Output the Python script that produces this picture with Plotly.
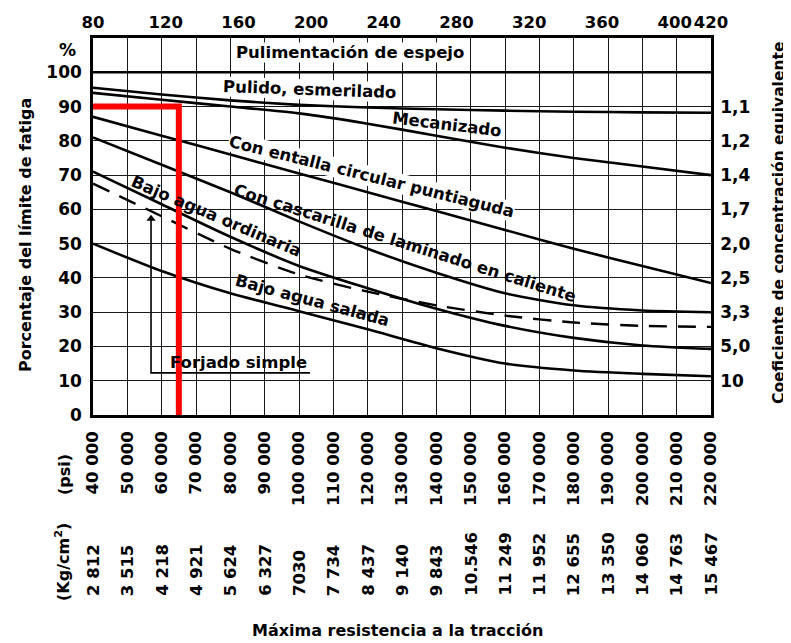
import numpy as np
import plotly.graph_objects as go

# ---------------- data ----------------
psi_k = [40, 60, 80, 100, 120, 140, 160, 180, 200, 220]          # tensile strength, thousand psi
espejo = [100, 100, 100, 100, 100, 100, 100, 100, 100, 100]        # Pulimentación de espejo
pulido = [95.5, 93.5, 91.8, 90.5, 89.7, 89.2, 88.8, 88.5, 88.3, 88.2]
mecanizado = [94, 92, 90, 88, 85, 81.5, 78, 75, 72.5, 70]
entalla = [87, 81.5, 76, 70.5, 65, 59.5, 54, 48.5, 43.5, 38.5]
cascarilla = [81, 73, 65, 56.5, 48.5, 41.5, 35.5, 32, 30.5, 30]
ordinaria = [71, 61.5, 52, 43.5, 37, 31, 26, 22.5, 20.3, 19.3]
forjado = [67.5, 58, 48.5, 41, 36, 32, 29, 27, 26, 25.7]
salada = [50, 42, 35.5, 30.3, 25, 19.5, 15, 13, 12, 11.3]

psi_ticks = [40, 50, 60, 70, 80, 90, 100, 110, 120, 130, 140, 150, 160, 170, 180, 190, 200, 210, 220]
psi_labels = ["40 000", "50 000", "60 000", "70 000", "80 000", "90 000", "100 000", "110 000",
              "120 000", "130 000", "140 000", "150 000", "160 000", "170 000", "180 000",
              "190 000", "200 000", "210 000", "220 000"]
kg_labels = ["2 812", "3 515", "4 218", "4 921", "5 624", "6 327", "7030", "7 734", "8 437",
             "9 140", "9 843", "10.546", "11 249", "11 952", "12 655", "13 350", "14 060",
             "14 763", "15 467"]
top_ticks = [80, 120, 160, 200, 240, 280, 320, 360, 400, 420]
pct_ticks = [0, 10, 20, 30, 40, 50, 60, 70, 80, 90, 100]
coef_pct = [90, 80, 70, 60, 50, 40, 30, 20, 10]
coef_labels = ["1,1", "1,2", "1,4", "1,7", "2,0", "2,5", "3,3", "5,0", "10"]

red_x = [40, 65, 65]
red_y = [90, 90, 0]

FONT = "DejaVu Sans"
BLACK = "black"

fig = go.Figure()

solid_curves = [espejo, pulido, mecanizado, entalla, cascarilla, ordinaria, salada]
for c in solid_curves:
    fig.add_trace(go.Scatter(x=psi_k, y=c, mode="lines",
                             line=dict(color=BLACK, width=2.6, shape="spline", smoothing=0.7),
                             hoverinfo="skip"))
fig.add_trace(go.Scatter(x=psi_k, y=forjado, mode="lines",
                         line=dict(color=BLACK, width=2.4, dash="18px,11px", shape="spline", smoothing=0.7),
                         hoverinfo="skip"))

# Forjado simple leader (underline + vertical to dashed curve, arrow head)
lead_x = 56.9
lead_y = 12.3
tip_y = float(np.interp(lead_x, psi_k, forjado))
fig.add_trace(go.Scatter(x=[103.2, lead_x, lead_x], y=[lead_y, lead_y, tip_y - 1.5], mode="lines",
                         line=dict(color=BLACK, width=1.6), hoverinfo="skip"))
fig.add_trace(go.Scatter(x=[lead_x], y=[tip_y - 2.2], mode="markers",
                         marker=dict(symbol="triangle-up", size=8, color=BLACK), hoverinfo="skip"))

# red reading lines
fig.add_trace(go.Scatter(x=red_x, y=red_y, mode="lines",
                         line=dict(color="#ff0000", width=6), hoverinfo="skip"))

# dummy trace for secondary axes
fig.add_trace(go.Scatter(x=[top_ticks[0], top_ticks[-1]], y=[0, 110], xaxis="x2", yaxis="y2",
                         mode="markers", marker=dict(opacity=0), hoverinfo="skip"))

ann = []
lab = [
    ("Pulimentación de espejo", espejo, 114.9, 0, 20, True),
    ("Pulido, esmerilado", pulido, 103.0, 2, 16, True),
    ("Mecanizado", mecanizado, 143.0, 7, 13, False),
    ("Con entalla circular puntiaguda", entalla, 121.0, 14, 17, True),
    ("Con cascarilla de laminado en caliente", cascarilla, 131.0, 17.5, 18, False),
    ("Bajo agua ordinaria", ordinaria, 76.0, 23, 14, False),
    ("Bajo agua salada", salada, 103.8, 15, 14, False),
]
for text, curve, px, ang, ys, bg in lab:
    d = dict(x=px, y=float(np.interp(px, psi_k, curve)), xref="x", yref="y",
             text=text, showarrow=False, textangle=ang, yshift=ys,
             font=dict(family=FONT, size=16.5, color=BLACK, weight="bold"), borderpad=0)
    if bg:
        d["bgcolor"] = "white"
    ann.append(d)

ann.append(dict(x=82.5, y=15.2, xref="x", yref="y", text="Forjado simple", showarrow=False,
                font=dict(family=FONT, size=16.5, color=BLACK, weight="bold")))

# kg/cm2 row
for xv, t in zip(psi_ticks, kg_labels):
    ann.append(dict(x=xv, y=(415 - 598) / 377, xref="x", yref="paper", text=t, showarrow=False,
                    textangle=-90, yanchor="bottom", xanchor="center",
                    font=dict(family=FONT, size=16.5, color=BLACK, weight="bold")))

def P(px, py):
    return (px - 93) / 618, (415 - py) / 377

for text, (cx, cy), ang, size in [
    ("%", (67, 50), 0, 17),
    ("Porcentaje del límite de fatiga", (25, 235), -90, 16),
    ("Coeficiente de concentración equivalente", (779, 223), -90, 15.5),
    ("(psi)", (64, 475), -90, 16),
    ("(Kg/cm<sup>2</sup>)", (62, 562), -90, 16),
    ("Máxima resistencia a la tracción", (397, 630), 0, 16),
]:
    x, y = P(cx, cy)
    ann.append(dict(x=x, y=y, xref="paper", yref="paper", text=text, showarrow=False,
                    textangle=ang, xanchor="center", yanchor="middle",
                    font=dict(family=FONT, size=size, color=BLACK, weight="bold")))

axis_common = dict(showline=True, linecolor=BLACK, linewidth=2.5, zeroline=False, ticks="",
                   automargin=False)
# the page body adds an 8 px offset, so the figure is 8 px smaller and margins shifted
fig.update_layout(
    width=783, height=635,
    margin=dict(l=85, r=80, t=30, b=228),
    plot_bgcolor="white", paper_bgcolor="white",
    showlegend=False,
    font=dict(family=FONT, size=18, color=BLACK, weight="bold"),
    xaxis=dict(range=[40, 220], tickvals=psi_ticks, ticktext=psi_labels, tickangle=-90,
               showgrid=True, gridcolor="#1a1a1a", gridwidth=1.3, mirror=True,
               ticklabelstandoff=7,
               tickfont=dict(family=FONT, size=16.5, color=BLACK, weight="bold"), **axis_common),
    xaxis2=dict(overlaying="x", side="top", range=[80, 420], tickvals=top_ticks, tickangle=0,
                showgrid=False, ticklabelstandoff=1,
                tickfont=dict(family=FONT, size=16.5, color=BLACK, weight="bold"), **axis_common),
    yaxis=dict(range=[0, 110], tickvals=pct_ticks, showgrid=True, gridcolor="#1a1a1a",
               gridwidth=1.3, mirror=True, ticklabelstandoff=5,
               tickfont=dict(family=FONT, size=17, color=BLACK, weight="bold"), **axis_common),
    yaxis2=dict(overlaying="y", side="right", range=[0, 110], tickvals=coef_pct,
                ticktext=coef_labels, showgrid=False, ticklabelstandoff=3,
                tickfont=dict(family=FONT, size=17, color=BLACK, weight="bold"), **axis_common),
    annotations=ann,
)

fig.write_html("out.html")
